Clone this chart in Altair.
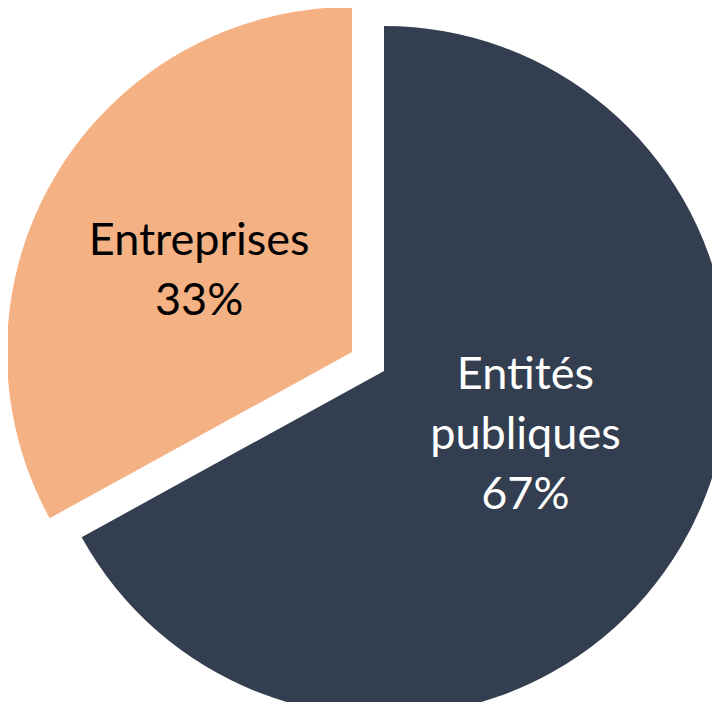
import math
import altair as alt
import pandas as pd

categories = ["Entités publiques", "Entreprises"]
values = [67, 33]
label_names = ["Entités\npubliques", "Entreprises"]
colors = ["#333F50", "#F4B183"]

df = pd.DataFrame({
    "category": categories,
    "value": values,
    "order": list(range(len(categories))),
    "label": [f"{n}\n{v}%" for n, v in zip(label_names, values)],
})

theta_scale = alt.Scale(domain=[0, 100], range=[0, 2 * math.pi])
color = alt.Color("category:N", scale=alt.Scale(domain=categories, range=colors), legend=None)

base = alt.Chart(df).transform_window(
    cum="sum(value)", sort=[alt.SortField("order")]
).transform_calculate(
    start="datum.cum - datum.value",
    mid="datum.cum - datum.value / 2",
)

CX, CY = 376, 363
R = 345

def arc_layer(cat, dx=0, dy=0):
    return base.transform_filter(alt.datum.category == cat).mark_arc(
        outerRadius=R, x=CX, y=CY, xOffset=dx, yOffset=dy, stroke=None
    ).encode(
        theta=alt.Theta("start:Q", scale=theta_scale),
        theta2="cum:Q",
        color=color,
    )

def text_layer(cat, radius, fill, dx=0, dy=0):
    return base.transform_filter(alt.datum.category == cat).mark_text(
        radius=radius, x=CX, y=CY, dx=dx, dy=dy,
        font="Lato", fontSize=45, lineBreak="\n", lineHeight=60,
        align="center", baseline="middle", color=fill,
    ).encode(
        theta=alt.Theta("mid:Q", scale=theta_scale),
        text="label:N",
    )

chart = alt.layer(
    arc_layer("Entités publiques"),
    arc_layer("Entreprises", -32, -19),
    text_layer("Entités publiques", 155, "#FFFFFF", 8, -75),
    text_layer("Entreprises", 173, "#000000", -36, -42),
).properties(
    width=704, height=694, padding=0, autosize=alt.AutoSizeParams(type="none")
).configure_view(stroke=None)

chart.save("out.html", embed_options={"renderer": "svg", "actions": False})
